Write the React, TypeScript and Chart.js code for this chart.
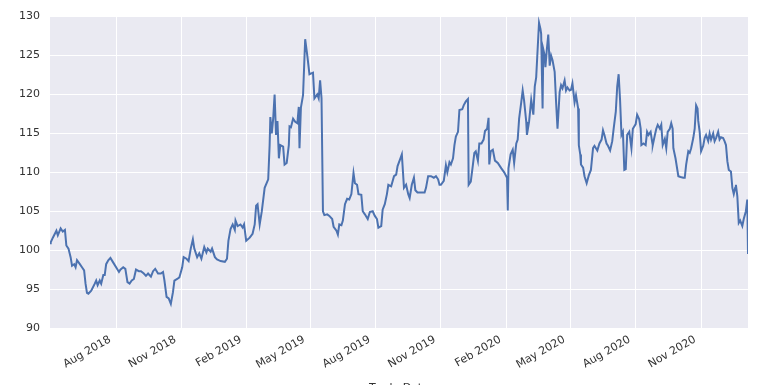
import React, { useEffect, useRef } from "react";
import { Chart, registerables } from "chart.js";

Chart.register(...registerables);

const dates: string[] = [
  "2018-04-30","2018-05-01","2018-05-04","2018-05-09","2018-05-11","2018-05-15","2018-05-18","2018-05-21","2018-05-23","2018-05-26",
  "2018-05-29","2018-05-31","2018-06-03","2018-06-05","2018-06-07","2018-06-11","2018-06-14","2018-06-17","2018-06-19","2018-06-21",
  "2018-06-23","2018-06-27","2018-07-02","2018-07-04","2018-07-06","2018-07-09","2018-07-11","2018-07-14","2018-07-16","2018-07-18",
  "2018-07-21","2018-07-24","2018-07-28","2018-08-01","2018-08-05","2018-08-07","2018-08-11","2018-08-14","2018-08-17","2018-08-20",
  "2018-08-23","2018-08-26","2018-08-29","2018-09-02","2018-09-05","2018-09-09","2018-09-12","2018-09-15","2018-09-19","2018-09-22",
  "2018-09-25","2018-09-29","2018-10-03","2018-10-06","2018-10-08","2018-10-11","2018-10-14","2018-10-17","2018-10-20","2018-10-22",
  "2018-10-26","2018-10-29","2018-11-02","2018-11-04","2018-11-08","2018-11-11","2018-11-14","2018-11-17","2018-11-19","2018-11-23",
  "2018-11-26","2018-11-29","2018-12-03","2018-12-06","2018-12-08","2018-12-12","2018-12-14","2018-12-18","2018-12-21","2018-12-26",
  "2019-01-01","2019-01-04","2019-01-06","2019-01-09","2019-01-12","2019-01-15","2019-01-16","2019-01-19","2019-01-23","2019-01-26",
  "2019-01-28","2019-01-31","2019-02-05","2019-02-09","2019-02-12","2019-02-14","2019-02-16","2019-02-19","2019-02-22","2019-02-26",
  "2019-03-03","2019-03-05","2019-03-06","2019-03-08","2019-03-10","2019-03-12","2019-03-14","2019-03-16","2019-03-18","2019-03-20",
  "2019-03-24","2019-03-26","2019-03-29","2019-04-01","2019-04-02","2019-04-04","2019-04-07","2019-04-10","2019-04-13","2019-04-15",
  "2019-04-16","2019-04-18","2019-04-21","2019-04-24","2019-04-27","2019-04-30","2019-05-05","2019-05-07","2019-05-11","2019-05-13",
  "2019-05-15","2019-05-17","2019-05-19","2019-05-21","2019-05-25","2019-05-28","2019-06-01","2019-06-03","2019-06-07","2019-06-09",
  "2019-06-11","2019-06-14","2019-06-16","2019-06-19","2019-06-22","2019-06-25","2019-06-28","2019-07-01","2019-07-03","2019-07-06",
  "2019-07-08","2019-07-12","2019-07-14","2019-07-17","2019-07-21","2019-07-24","2019-07-28","2019-07-31","2019-08-03","2019-08-05",
  "2019-08-09","2019-08-11","2019-08-14","2019-08-17","2019-08-19","2019-08-23","2019-08-27","2019-08-30","2019-09-01","2019-09-05",
  "2019-09-07","2019-09-10","2019-09-13","2019-09-16","2019-09-18","2019-09-21","2019-09-24","2019-09-26","2019-09-29","2019-10-04",
  "2019-10-09","2019-10-11","2019-10-14","2019-10-18","2019-10-22","2019-10-25","2019-10-28","2019-10-30","2019-11-01","2019-11-05",
  "2019-11-08","2019-11-10","2019-11-13","2019-11-15","2019-11-18","2019-11-20","2019-11-22","2019-11-25","2019-11-27","2019-12-01",
  "2019-12-03","2019-12-06","2019-12-09","2019-12-10","2019-12-13","2019-12-16","2019-12-18","2019-12-20","2019-12-23","2019-12-25",
  "2019-12-28","2019-12-31","2020-01-02","2020-01-05","2020-01-07","2020-01-08","2020-01-10","2020-01-13","2020-01-16","2020-01-20",
  "2020-01-25","2020-01-29","2020-02-02","2020-02-03","2020-02-04","2020-02-07","2020-02-10","2020-02-12","2020-02-15","2020-02-17",
  "2020-02-19","2020-02-22","2020-02-24","2020-02-26","2020-02-29","2020-03-01","2020-03-04","2020-03-07","2020-03-10","2020-03-12",
  "2020-03-14","2020-03-17","2020-03-18","2020-03-20","2020-03-21","2020-03-23","2020-03-24","2020-03-26","2020-03-27","2020-03-29",
  "2020-03-31","2020-04-02","2020-04-04","2020-04-06","2020-04-09","2020-04-11","2020-04-13","2020-04-16","2020-04-18","2020-04-20",
  "2020-04-23","2020-04-25","2020-04-27","2020-04-30","2020-05-02","2020-05-04","2020-05-07","2020-05-09","2020-05-12","2020-05-13",
  "2020-05-15","2020-05-16","2020-05-19","2020-05-21","2020-05-24","2020-05-27","2020-05-30","2020-06-02","2020-06-04","2020-06-08",
  "2020-06-11","2020-06-14","2020-06-16","2020-06-18","2020-06-21","2020-06-23","2020-06-26","2020-06-29","2020-07-01","2020-07-04",
  "2020-07-06","2020-07-08","2020-07-10","2020-07-12","2020-07-14","2020-07-16","2020-07-18","2020-07-20","2020-07-23","2020-07-26",
  "2020-07-28","2020-08-01","2020-08-03","2020-08-06","2020-08-08","2020-08-09","2020-08-12","2020-08-15","2020-08-17","2020-08-19",
  "2020-08-22","2020-08-24","2020-08-25","2020-08-28","2020-08-30","2020-09-01","2020-09-04","2020-09-06","2020-09-08","2020-09-11",
  "2020-09-13","2020-09-15","2020-09-18","2020-09-20","2020-09-22","2020-09-23","2020-09-26","2020-09-30","2020-10-03","2020-10-07",
  "2020-10-09","2020-10-11","2020-10-14","2020-10-16","2020-10-18","2020-10-21","2020-10-23","2020-10-25","2020-10-27","2020-10-28",
  "2020-10-30","2020-11-01","2020-11-04","2020-11-06","2020-11-08","2020-11-11","2020-11-13","2020-11-15","2020-11-18","2020-11-20",
  "2020-11-22","2020-11-25","2020-11-27","2020-11-29","2020-12-02","2020-12-04","2020-12-06","2020-12-08","2020-12-10","2020-12-13",
  "2020-12-15","2020-12-17","2020-12-19","2020-12-20","2020-12-22","2020-12-24","2020-12-26","2020-12-29","2020-12-31","2021-01-03",
  "2021-01-05","2021-01-06",
];

const prices: number[] = [
  100.9,101.0,101.6,102.5,101.9,102.8,102.4,102.6,100.6,100.2,
  99.1,98.0,98.2,97.8,98.7,98.2,97.8,97.4,95.7,94.5,
  94.4,94.8,95.7,96.1,95.5,96.1,95.7,96.8,96.8,98.2,
  98.7,99.0,98.4,97.8,97.2,97.5,97.8,97.6,95.9,95.7,
  96.1,96.3,97.5,97.3,97.3,97.0,96.7,97.0,96.6,97.3,
  97.6,97.0,97.0,97.2,96.1,94.0,93.8,93.1,94.6,96.1,
  96.3,96.5,97.8,99.1,98.9,98.6,100.2,101.4,100.2,99.1,
  99.6,98.9,100.4,99.7,100.2,99.8,100.2,99.1,98.8,98.6,
  98.5,98.9,101.2,102.7,103.3,102.6,103.8,103.1,103.3,102.9,
  103.3,101.2,101.6,102.1,103.3,105.7,105.9,103.3,105.0,108.0,
  109.1,113.5,117.1,115.0,116.9,120.0,114.8,116.6,111.8,113.5,
  113.3,111.0,111.2,113.5,115.9,115.8,116.9,116.5,116.3,118.4,
  113.1,118.3,119.9,127.1,125.0,122.6,122.8,119.5,120.0,119.5,
  121.8,119.5,105.0,104.5,104.6,104.4,104.0,103.0,102.5,102.0,
  103.3,103.2,103.8,105.9,106.6,106.5,107.2,109.9,108.6,108.4,
  107.2,107.1,105.0,104.6,104.0,104.9,105.0,104.4,104.0,102.9,
  103.1,105.2,105.9,107.2,108.4,108.2,109.5,109.7,110.8,111.8,
  112.3,108.0,108.4,107.2,106.7,108.4,109.3,107.7,107.4,107.4,
  107.4,108.0,109.5,109.5,109.3,109.5,109.1,108.4,108.4,108.9,
  110.9,110.0,111.3,111.0,111.8,113.5,114.6,115.2,118.0,118.1,
  118.6,119.1,119.4,108.4,108.8,111.0,112.5,112.7,111.5,113.7,
  113.7,114.2,115.3,115.6,117.0,111.0,112.7,112.9,111.5,111.2,
  110.5,110.0,109.3,105.1,110.5,112.3,112.9,111.2,113.7,114.2,
  116.9,119.0,120.5,119.2,116.5,114.8,116.5,119.3,117.4,121.0,
  122.2,127.5,129.2,128.4,127.8,118.2,125.8,125.0,123.5,125.8,
  127.7,123.7,125.0,124.4,122.9,119.0,115.6,120.3,121.2,120.8,
  121.8,120.5,120.9,120.5,120.6,121.4,119.0,119.9,118.2,113.5,
  112.3,111.0,110.6,109.5,108.6,109.6,110.3,113.1,113.4,112.8,
  113.7,114.2,115.4,114.8,113.7,113.4,112.8,114.0,115.6,117.8,
  121.0,122.6,119.3,114.8,115.2,110.3,110.4,114.8,115.2,113.1,
  115.6,116.2,117.4,116.8,115.6,113.5,113.7,113.5,115.2,114.8,
  115.2,114.0,113.5,114.8,115.6,116.1,115.6,116.1,113.5,114.3,
  113.1,115.2,115.6,116.3,115.6,113.1,111.8,109.5,109.4,109.3,
  109.3,111.0,112.7,112.5,113.1,114.4,115.6,118.6,118.2,116.6,
  115.2,112.7,113.4,114.4,114.8,114.0,115.0,114.2,115.0,114.0,
  114.4,115.2,114.2,114.5,114.4,114.0,113.5,111.4,110.3,110.1,
  108.0,107.2,108.0,108.4,106.9,103.5,103.8,103.1,104.0,105.0,
  106.5,99.5,
];

const tickDates: string[] = [
  "2018-08-01","2018-11-01","2019-02-01","2019-05-01","2019-08-01",
  "2019-11-01","2020-02-01","2020-05-01","2020-08-01","2020-11-01",
];
const tickLabels: string[] = [
  "Aug 2018","Nov 2018","Feb 2019","May 2019","Aug 2019",
  "Nov 2019","Feb 2020","May 2020","Aug 2020","Nov 2020",
];
const yTicks: number[] = [90, 95, 100, 105, 110, 115, 120, 125, 130];
const xTitle = "Trade Date";

const DAY = 86400000;
const toDay = (s: string) => Date.parse(s) / DAY;

export default function App() {
  const ref = useRef<HTMLCanvasElement | null>(null);

  useEffect(() => {
    if (!ref.current) return;
    const points = dates.map((d, i) => ({ x: toDay(d), y: prices[i] }));
    const tickVals = tickDates.map(toDay);
    const labelFor = (v: number) => {
      const i = tickVals.findIndex((t) => Math.abs(t - v) < 0.5);
      return i >= 0 ? tickLabels[i] : "";
    };
    const font = { family: "'DejaVu Sans', sans-serif", size: 11 };
    const textColor = "#333333";

    const bgPlugin = {
      id: "bgArea",
      beforeDraw(chart: any) {
        const { ctx, chartArea } = chart;
        ctx.save();
        ctx.fillStyle = "#EAEAF2";
        ctx.fillRect(chartArea.left, chartArea.top, chartArea.right - chartArea.left, chartArea.bottom - chartArea.top);
        ctx.restore();
      },
    };

    const chart = new Chart(ref.current, {
      type: "line",
      data: {
        datasets: [
          {
            data: points,
            borderColor: "#4C72B0",
            borderWidth: 2,
            pointRadius: 0,
            tension: 0,
            fill: false,
          },
        ],
      },
      options: {
        animation: false,
        responsive: false,
        layout: { padding: { left: 0, right: 18, top: 14, bottom: 0 } },
        plugins: { legend: { display: false }, tooltip: { enabled: false } },
        scales: {
          x: {
            type: "linear",
            min: points[0].x,
            max: points[points.length - 1].x,
            afterBuildTicks: (s: any) => {
              s.ticks = tickVals.map((v) => ({ value: v }));
            },
            afterFit: (s: any) => {
              s.height = 71;
            },
            ticks: {
              autoSkip: false,
              minRotation: 30,
              maxRotation: 30,
              padding: 5,
              labelOffset: -6,
              font,
              color: textColor,
              callback: (v: any) => labelFor(Number(v)),
            },
            grid: { color: "#ffffff", lineWidth: 1, drawTicks: false },
            border: { display: false },
            title: { display: true, text: xTitle, font, color: textColor, padding: { top: 4, bottom: 4 } },
          },
          y: {
            type: "linear",
            min: 90,
            max: 130,
            afterBuildTicks: (s: any) => {
              s.ticks = yTicks.map((v) => ({ value: v }));
            },
            afterFit: (s: any) => {
              s.width = 50;
            },
            ticks: { padding: 10, font, color: textColor },
            grid: { color: "#ffffff", lineWidth: 1, drawTicks: false },
            border: { display: false },
          },
        },
      },
      plugins: [bgPlugin],
    });
    return () => chart.destroy();
  }, []);

  return (
    <div style={{ position: "fixed", left: 0, top: 0, width: 766, height: 385, overflow: "hidden", background: "#fff" }}>
      <canvas ref={ref} width={766} height={399} style={{ display: "block" }} />
    </div>
  );
}
